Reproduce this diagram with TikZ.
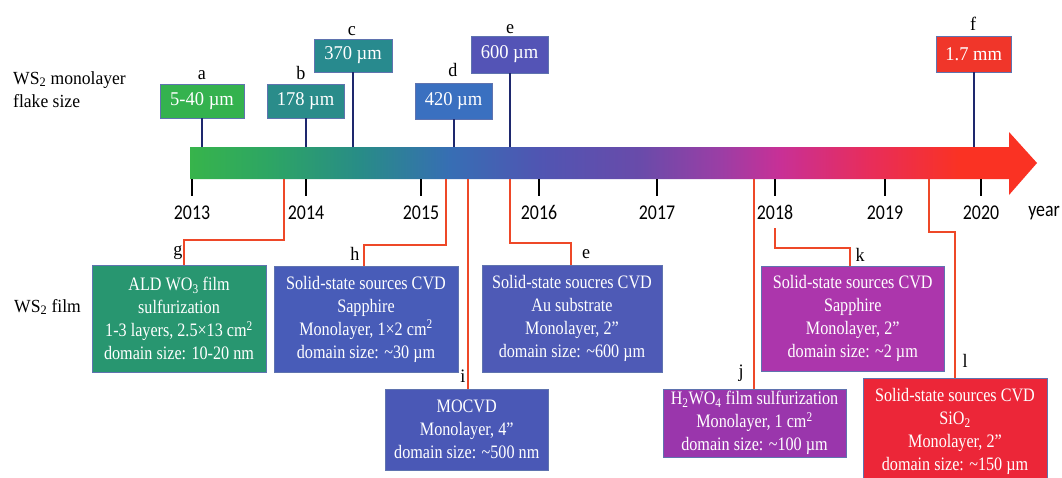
\documentclass[tikz,border=0pt]{standalone}
\usepackage{fontspec}
\setmainfont{Liberation Serif}[FakeStretch=0.95]
\newfontfamily\boxfont{Liberation Serif}[FakeStretch=0.85]
\newfontfamily\yearfont{Carlito}[FakeStretch=0.85]
\usetikzlibrary{calc}
\definecolor{tlA}{RGB}{55,180,75}
\definecolor{tlB}{RGB}{45,165,100}
\definecolor{tlC}{RGB}{40,140,135}
\definecolor{tlD}{RGB}{55,110,180}
\definecolor{tlE}{RGB}{80,85,178}
\definecolor{tlF}{RGB}{105,75,170}
\definecolor{tlG}{RGB}{155,62,165}
\definecolor{tlH}{RGB}{200,48,150}
\definecolor{tlI}{RGB}{232,45,90}
\definecolor{tlJ}{RGB}{250,50,35}
\pgfdeclarehorizontalshading{timeline}{100bp}{color(0bp)=(tlA); color(25bp)=(tlA); color(29.72bp)=(tlB); color(35.04bp)=(tlC); color(40.35bp)=(tlD); color(45.66bp)=(tlE); color(51.56bp)=(tlF); color(56.29bp)=(tlG); color(59.83bp)=(tlH); color(65.14bp)=(tlI); color(70.45bp)=(tlJ); color(75bp)=(tlJ); color(100bp)=(tlJ)}
\definecolor{cola}{RGB}{52,178,78}
\definecolor{colb}{RGB}{42,140,138}
\definecolor{colc}{RGB}{40,138,142}
\definecolor{cold}{RGB}{58,112,192}
\definecolor{cole}{RGB}{84,84,182}
\definecolor{colf}{RGB}{240,54,42}
\definecolor{colg}{RGB}{40,150,112}
\definecolor{colh}{RGB}{72,92,184}
\definecolor{coli}{RGB}{74,88,182}
\definecolor{colee}{RGB}{78,90,182}
\definecolor{colj}{RGB}{154,54,172}
\definecolor{colk}{RGB}{172,54,172}
\definecolor{coll}{RGB}{236,38,56}
\definecolor{boxline}{RGB}{95,115,175}
\definecolor{navy}{RGB}{30,40,110}
\definecolor{redcon}{RGB}{238,72,40}
\begin{document}
\begin{tikzpicture}[x=1pt,y=-1pt,
  topbox/.style={draw=boxline, line width=0.8pt, inner sep=0pt, text=white, font=\fontsize{19.5}{23}\selectfont},
  filmbox/.style={draw=boxline, line width=0.8pt, inner sep=0pt, text=white, align=center, font=\boxfont\fontsize{19}{23}\selectfont},
  lbl/.style={anchor=base, inner sep=0pt, font=\fontsize{19}{23}\selectfont},
  sidelbl/.style={anchor=base west, inner sep=0pt, font=\fontsize{18.5}{23}\selectfont},
  yearlbl/.style={anchor=base, inner sep=0pt, font=\yearfont\fontsize{21}{25}\selectfont},
  navyline/.style={draw=navy, line width=2pt},
  redline/.style={draw=redcon, line width=2pt},
  tickline/.style={draw=black, line width=2.8pt}]
\clip (0,0) rectangle (1062,477);
\fill[white] (0,0) rectangle (1062,477);
% timeline arrow
\shade[shading=timeline] (190,147) -- (1009,147) -- (1009,132) -- (1037,163) -- (1009,195) -- (1009,179) -- (190,179) -- cycle;
\coordinate (bartop) at (0,147);
\coordinate (barbot) at (0,179);
% ticks and years
\foreach \x/\yr in {192/2013,306/2014,421/2015,539/2016,657/2017,775/2018,885/2019,981/2020}{
  \draw[tickline] (\x,179) -- (\x,196);
  \node[yearlbl] (y\yr) at (\x,219) {\yr};
}
\node[yearlbl] (yearword) at (1044,216) {year};
% side labels
\node[sidelbl] (ws1) at (13,84) {WS\textsubscript{2} monolayer};
\node[sidelbl] (ws2) at (13,107) {flake size};
\node[sidelbl] (ws3) at (14,312) {WS\textsubscript{2} film};
% top boxes
\node[topbox, fill=cola, minimum width=84pt, minimum height=34pt] (a) at (202,101) {5-40 µm};
\node[topbox, fill=colb, minimum width=77pt, minimum height=34pt] (b) at (305.5,101) {178 µm};
\node[topbox, fill=colc, minimum width=78pt, minimum height=33pt] (c) at (353,55.5) {370 µm};
\node[topbox, fill=cold, minimum width=77pt, minimum height=36pt] (d) at (453.5,101) {420 µm};
\node[topbox, fill=cole, minimum width=77pt, minimum height=37pt] (e) at (509.5,54.5) {600 µm};
\node[topbox, fill=colf, minimum width=75.5pt, minimum height=36pt] (f) at (973.7,54) {1.7 mm};
\node[lbl] (la) at (202,79) {a};
\node[lbl] (lb) at (301,79) {b};
\node[lbl] (lc) at (352,35) {c};
\node[lbl] (ld) at (453,76) {d};
\node[lbl] (le) at (510,33) {e};
\node[lbl] (lf) at (973,30) {f};
\foreach \n in {a,b,c,d,e,f}{
  \draw[navyline] (\n.south) -- (\n.south |- bartop);
}
% film boxes
\node[filmbox, fill=colg, minimum width=174pt, minimum height=107pt] (gbox) at (179,318.5)
  {ALD WO\textsubscript{3} film\\sulfurization\\1-3 layers, 2.5×13 cm\textsuperscript{2}\\domain size: 10-20 nm};
\node[filmbox, fill=colh, minimum width=184pt, minimum height=106pt] (hbox) at (366,319)
  {Solid-state sources CVD\\Sapphire\\Monolayer, 1×2 cm\textsuperscript{2}\\domain size: \textasciitilde30 µm};
\node[filmbox, fill=coli, minimum width=162.5pt, minimum height=81pt] (ibox) at (466.75,429.5)
  {MOCVD\\Monolayer, 4”\\domain size: \textasciitilde500 nm};
\node[filmbox, fill=colee, minimum width=180pt, minimum height=107pt] (eebox) at (572,318.5)
  {Solid-state soucres CVD\\Au substrate\\Monolayer, 2”\\domain size: \textasciitilde600 µm};
\node[filmbox, fill=colj, minimum width=183pt, minimum height=68pt] (jbox) at (754.5,423)
  {H\textsubscript{2}WO\textsubscript{4} film sulfurization\\Monolayer, 1 cm\textsuperscript{2}\\domain size: \textasciitilde100 µm};
\node[filmbox, fill=colk, minimum width=183.5pt, minimum height=105pt] (kbox) at (852.75,318.5)
  {Solid-state sources CVD\\Sapphire\\Monolayer, 2”\\domain size: \textasciitilde2 µm};
\node[filmbox, fill=coll, minimum width=184pt, minimum height=106.5pt] (lbox) at (955,431.25)
  {Solid-state sources CVD\\SiO\textsubscript{2}\\Monolayer, 2”\\domain size: \textasciitilde150 µm};
% letters
\node[lbl] (lg) at (178,255) {g};
\node[lbl] (lh) at (355,260) {h};
\node[lbl] (li) at (463,382) {i};
\node[lbl] (lee) at (586,258) {e};
\node[lbl] (lj) at (741,377) {j};
\node[lbl] (lk) at (860,261) {k};
\node[lbl] (ll) at (965,367) {l};
% red connectors
\coordinate (gsrc) at (284,179);
\coordinate (hsrc) at (446,179);
\coordinate (isrc) at (468,179);
\coordinate (esrc) at (510,179);
\coordinate (jsrc) at (754,179);
\coordinate (ksrc) at (775,228);
\coordinate (lsrc) at (929,179);
\draw[redline] (gsrc) -- ++(0,61) -| ([xshift=5pt]gbox.north);
\draw[redline] (hsrc) -- ++(0,66) -| ([xshift=-2pt]hbox.north);
\draw[redline] (isrc) -- (isrc |- ibox.north);
\draw[redline] (esrc) -- ++(0,64) -| ([xshift=-1pt]eebox.north);
\draw[redline] (jsrc) -- (jsrc |- jbox.north);
\draw[redline] (ksrc) -- ++(0,20) -| ([xshift=-2.75pt]kbox.north);
\draw[redline] (lsrc) -- ++(0,53) -| (lbox.north);
\end{tikzpicture}
\end{document}
